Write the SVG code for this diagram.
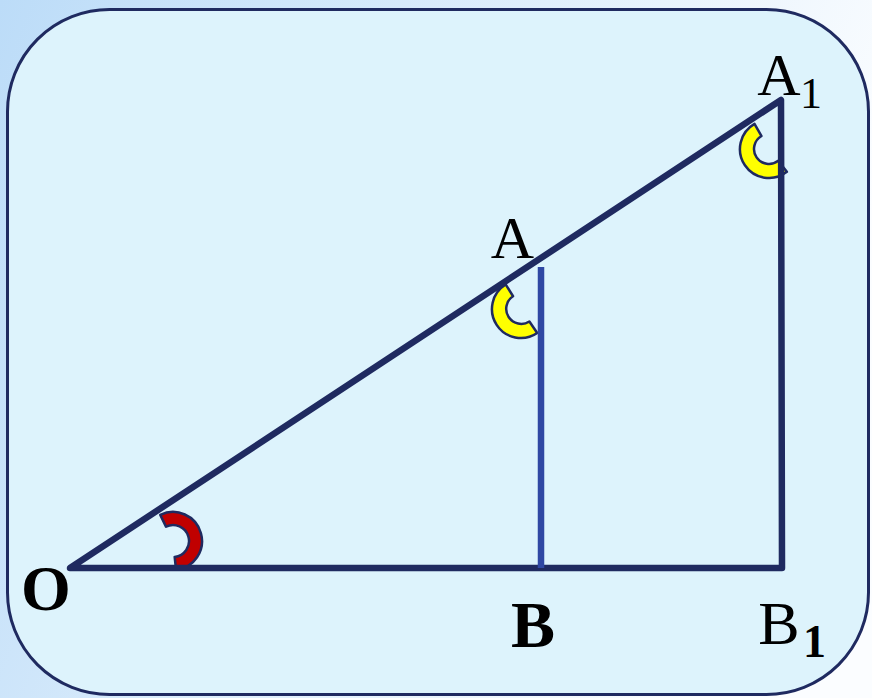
<svg xmlns="http://www.w3.org/2000/svg" width="872" height="698" viewBox="0 0 872 698">
  <defs>
    <linearGradient id="bg" x1="0" y1="0" x2="1" y2="0.3">
      <stop offset="0" stop-color="#bcdcf8"/>
      <stop offset="1" stop-color="#fbfdff"/>
    </linearGradient>
  </defs>
  <style>
    .edge { stroke: #1f2a60; stroke-width: 6.5; stroke-linecap: round; stroke-linejoin: round; fill: none; }
    .mark { stroke: #1f2a60; stroke-width: 2.5; stroke-linejoin: round; }
    .lbl { font-family: "Liberation Serif", "DejaVu Serif", serif; fill: #000000; }
  </style>
  <rect x="0" y="0" width="872" height="698" fill="url(#bg)"/>
  <rect id="frame" x="7.5" y="9.5" width="861" height="685" rx="102" ry="102" fill="#ddf3fc" stroke="#1f2a60" stroke-width="3"/>

  <g id="markers">
    <path id="angle-O" class="mark" fill="#c00000" d="M 160.29 514.93 A 29 29 0 1 1 176.03 569.84 L 174.67 556.91 A 16 16 0 1 0 165.99 526.62 Z"/>
    <path id="angle-A" class="mark" fill="#ffff00" d="M 537.22 333.04 A 29 29 0 1 1 505.63 284.41 L 513.05 296.28 A 15 15 0 1 0 529.39 321.44 Z"/>
    <path id="angle-A1" class="mark" fill="#ffff00" d="M 786.85 171.85 A 29 29 0 1 1 754.5 123.89 L 761.5 136.01 A 15 15 0 1 0 778.24 160.82 Z"/>
  </g>

  <g id="connectors">
    <path class="edge" d="M 70 568 L 781 100 L 782 568 Z"/>
    <line x1="541" y1="267" x2="541" y2="568" stroke="#2f47a3" stroke-width="6.5"/>
  </g>

  <g id="labels">
    <text id="label-A" class="lbl" x="512.5" y="258" font-size="60" text-anchor="middle">A</text>
    <text id="label-A1" class="lbl" x="779" y="95" font-size="60" text-anchor="middle">A</text>
    <text class="lbl" x="800" y="108" font-size="44">1</text>
    <text id="label-O" class="lbl" x="46" y="610" font-size="64" font-weight="bold" text-anchor="middle">O</text>
    <text id="label-B" class="lbl" x="533" y="647" font-size="66" font-weight="bold" text-anchor="middle">B</text>
    <text id="label-B1" class="lbl" x="779" y="644" font-size="62" text-anchor="middle">B</text>
    <text class="lbl" x="803" y="657" font-size="46" font-weight="bold">1</text>
  </g>
</svg>
